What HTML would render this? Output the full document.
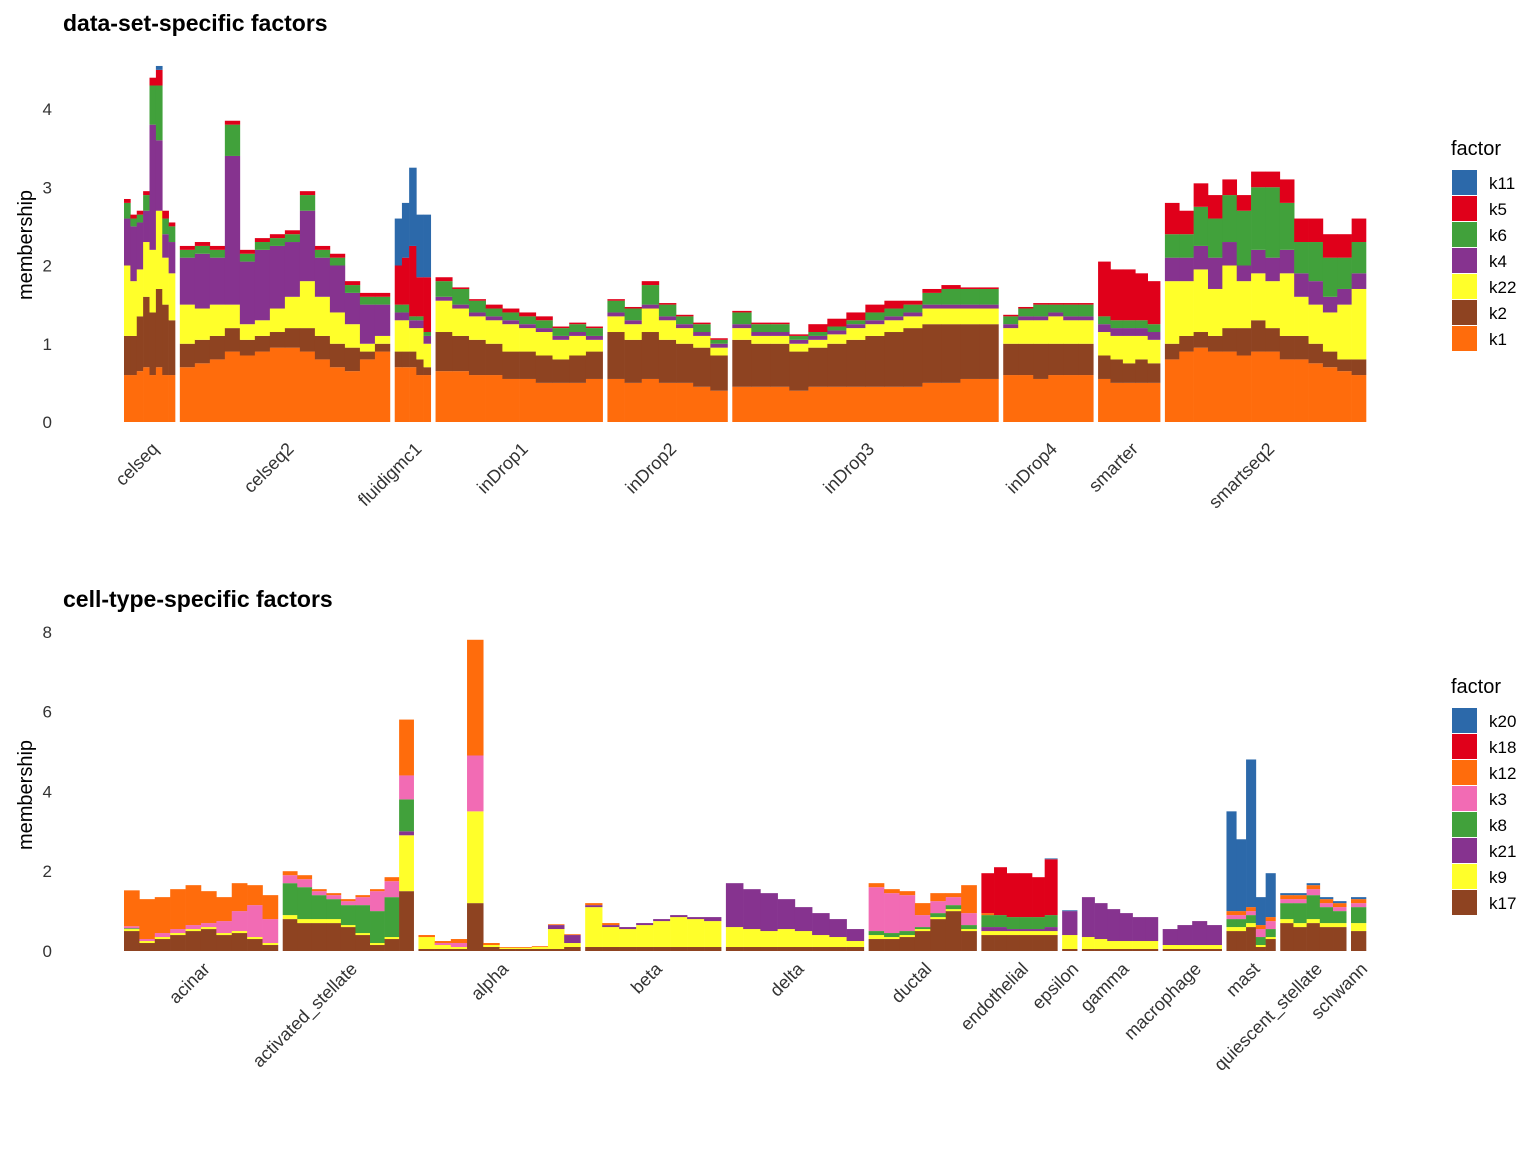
<!DOCTYPE html>
<html><head><meta charset="utf-8">
<style>
body{margin:0;background:#fff;}
svg{display:block;font-family:"Liberation Sans",Arial,sans-serif;}
</style></head>
<body>
<svg id="chart" width="1536" height="1152" viewBox="0 0 1536 1152" xmlns="http://www.w3.org/2000/svg"></svg>
<script>
// ---------- top panel data ----------
const topFactors = ["k1","k2","k22","k4","k6","k5","k11"];
const topColors = ["#FF6C0C","#8E4321","#FFFF2A","#86338F","#41A13B","#E0001A","#2C69AA"];
const topGroups = ["celseq","celseq2","fluidigmc1","inDrop1","inDrop2","inDrop3","inDrop4","smarter","smartseq2"];
const topCounts = [51,210,36,167,120,266,90,62,201];
const topTicks = [0,1,2,3,4];
const topBars = [
 [[0.6,0.5,0.9,0.6,0.2,0.05,0],[0.6,0.5,0.7,0.7,0.1,0.05,0],[0.65,0.7,0.6,0.6,0.1,0.05,0],[0.7,0.9,0.7,0.4,0.2,0.05,0],[0.6,0.8,0.8,1.6,0.5,0.1,0],[0.7,1.0,1.0,0.9,0.7,0.2,0.05],[0.6,0.9,0.6,0.3,0.2,0.1,0],[0.6,0.7,0.6,0.4,0.2,0.05,0]],
 [[0.7,0.3,0.5,0.6,0.1,0.05,0],[0.75,0.3,0.4,0.7,0.1,0.05,0],[0.8,0.3,0.4,0.6,0.1,0.05,0],[0.9,0.3,0.3,1.9,0.4,0.05,0],[0.85,0.2,0.2,0.8,0.1,0.05,0],[0.9,0.2,0.2,0.9,0.1,0.05,0],[0.95,0.2,0.3,0.8,0.1,0.05,0],[0.95,0.25,0.4,0.7,0.1,0.05,0],[0.9,0.3,0.6,0.9,0.2,0.05,0],[0.8,0.3,0.5,0.5,0.1,0.05,0],[0.7,0.3,0.4,0.6,0.1,0.05,0],[0.65,0.3,0.3,0.4,0.1,0.05,0],[0.8,0.1,0.1,0.5,0.1,0.05,0],[0.9,0.1,0.1,0.4,0.1,0.05,0]],
 [[0.7,0.2,0.4,0.1,0.1,0.5,0.6],[0.7,0.2,0.4,0.1,0.1,0.6,0.7],[0.7,0.2,0.3,0.1,0.05,0.9,1.0],[0.6,0.2,0.4,0.1,0.05,0.5,0.8],[0.6,0.1,0.3,0.1,0.05,0.7,0.8]],
 [[0.65,0.5,0.4,0.05,0.2,0.05,0],[0.65,0.45,0.35,0.05,0.2,0.02,0],[0.6,0.45,0.3,0.05,0.15,0.02,0],[0.6,0.4,0.3,0.05,0.1,0.05,0],[0.55,0.35,0.35,0.05,0.1,0.05,0],[0.55,0.35,0.3,0.05,0.1,0.05,0],[0.5,0.35,0.3,0.05,0.1,0.05,0],[0.5,0.3,0.25,0.05,0.1,0.02,0],[0.5,0.35,0.25,0.05,0.1,0.02,0],[0.55,0.35,0.15,0.05,0.1,0.02,0]],
 [[0.55,0.6,0.2,0.05,0.15,0.02,0],[0.5,0.55,0.2,0.05,0.15,0.02,0],[0.55,0.6,0.3,0.05,0.25,0.05,0],[0.5,0.55,0.25,0.05,0.15,0.02,0],[0.5,0.5,0.2,0.05,0.1,0.02,0],[0.45,0.5,0.15,0.05,0.1,0.02,0],[0.4,0.45,0.1,0.05,0.05,0.02,0]],
 [[0.45,0.6,0.15,0.05,0.15,0.02,0],[0.45,0.55,0.1,0.05,0.1,0.02,0],[0.45,0.55,0.1,0.05,0.1,0.02,0],[0.4,0.5,0.1,0.05,0.05,0.02,0],[0.45,0.5,0.1,0.05,0.05,0.1,0],[0.45,0.55,0.12,0.05,0.05,0.1,0],[0.45,0.6,0.15,0.05,0.05,0.1,0],[0.45,0.65,0.15,0.05,0.1,0.1,0],[0.45,0.7,0.15,0.05,0.1,0.1,0],[0.45,0.75,0.15,0.05,0.1,0.05,0],[0.5,0.75,0.2,0.05,0.15,0.05,0],[0.5,0.75,0.2,0.05,0.2,0.05,0],[0.55,0.7,0.2,0.05,0.2,0.02,0],[0.55,0.7,0.2,0.05,0.2,0.02,0]],
 [[0.6,0.4,0.2,0.05,0.1,0.02,0],[0.6,0.4,0.3,0.05,0.1,0.02,0],[0.55,0.45,0.3,0.05,0.15,0.02,0],[0.6,0.4,0.35,0.05,0.1,0.02,0],[0.6,0.4,0.3,0.05,0.15,0.02,0],[0.6,0.4,0.3,0.05,0.15,0.02,0]],
 [[0.55,0.3,0.3,0.1,0.1,0.7,0],[0.5,0.3,0.3,0.1,0.1,0.65,0],[0.5,0.25,0.35,0.1,0.1,0.65,0],[0.5,0.3,0.3,0.1,0.1,0.6,0],[0.5,0.25,0.3,0.1,0.1,0.55,0]],
 [[0.8,0.2,0.8,0.3,0.3,0.4,0],[0.9,0.2,0.7,0.3,0.3,0.3,0],[0.95,0.2,0.8,0.3,0.5,0.3,0],[0.9,0.2,0.6,0.4,0.5,0.3,0],[0.9,0.3,0.8,0.3,0.6,0.2,0],[0.85,0.35,0.6,0.2,0.7,0.2,0],[0.9,0.4,0.6,0.3,0.8,0.2,0],[0.9,0.3,0.6,0.3,0.9,0.2,0],[0.8,0.3,0.8,0.3,0.6,0.3,0],[0.8,0.3,0.5,0.3,0.4,0.3,0],[0.75,0.25,0.5,0.3,0.5,0.3,0],[0.7,0.2,0.5,0.2,0.5,0.3,0],[0.65,0.15,0.7,0.2,0.4,0.3,0],[0.6,0.2,0.9,0.2,0.4,0.3,0]]
];
// ---------- bottom panel data ----------
const botFactors = ["k17","k9","k21","k8","k3","k12","k18","k20"];
const botColors = ["#8E4321","#FFFF2A","#86338F","#41A13B","#F26BB4","#FF6C0C","#E0001A","#2C69AA"];
const botGroups = ["acinar","activated_stellate","alpha","beta","delta","ductal","endothelial","epsilon","gamma","macrophage","mast","quiescent_stellate","schwann"];
const botCounts = [154,131,162,136,138,108,76,15,76,59,49,66,15];
const botTicks = [0,2,4,6,8];
const botBars = [
 [[0.5,0.05,0,0.02,0.05,0.9,0,0],[0.2,0.05,0,0,0.05,1.0,0,0],[0.3,0.05,0,0,0.1,0.9,0,0],[0.4,0.05,0,0,0.1,1.0,0,0],[0.5,0.05,0,0,0.1,1.0,0,0],[0.55,0.05,0,0,0.1,0.8,0,0],[0.4,0.05,0,0,0.3,0.6,0,0],[0.45,0.05,0,0,0.5,0.7,0,0],[0.3,0.05,0,0,0.8,0.5,0,0],[0.15,0.05,0,0,0.6,0.6,0,0]],
 [[0.8,0.1,0,0.8,0.2,0.1,0,0],[0.7,0.1,0,0.8,0.2,0.1,0,0],[0.7,0.1,0,0.6,0.1,0.05,0,0],[0.7,0.1,0,0.5,0.1,0.05,0,0],[0.6,0.05,0,0.5,0.1,0.05,0,0],[0.4,0.05,0,0.7,0.2,0.05,0,0],[0.15,0.05,0,0.8,0.5,0.05,0,0],[0.3,0.05,0,1.0,0.4,0.1,0,0],[1.5,1.4,0.1,0.8,0.6,1.4,0,0]],
 [[0.05,0.3,0,0,0,0.05,0,0],[0.05,0.1,0,0,0.05,0.05,0,0],[0.05,0.05,0,0,0.1,0.1,0,0],[1.2,2.3,0,0,1.4,2.9,0,0],[0.1,0.05,0,0,0,0.05,0,0],[0.05,0.03,0,0,0,0.02,0,0],[0.05,0.03,0,0,0,0.02,0,0],[0.05,0.05,0,0,0,0.02,0,0],[0.05,0.5,0.1,0,0,0.02,0,0],[0.1,0.1,0.2,0,0,0.02,0,0]],
 [[0.1,1.0,0.05,0,0,0.05,0,0],[0.1,0.5,0.05,0,0,0.05,0,0],[0.1,0.45,0.05,0,0,0,0,0],[0.1,0.55,0.05,0,0,0,0,0],[0.1,0.65,0.05,0,0,0,0,0],[0.1,0.75,0.05,0,0,0,0,0],[0.1,0.7,0.05,0,0,0,0,0],[0.1,0.65,0.1,0,0,0,0,0]],
 [[0.1,0.5,1.1,0,0,0,0,0],[0.1,0.45,1.0,0,0,0,0,0],[0.1,0.4,0.95,0,0,0,0,0],[0.1,0.45,0.75,0,0,0,0,0],[0.1,0.4,0.6,0,0,0,0,0],[0.1,0.3,0.55,0,0,0,0,0],[0.1,0.25,0.45,0,0,0,0,0],[0.1,0.15,0.3,0,0,0,0,0]],
 [[0.3,0.1,0,0.1,1.1,0.1,0,0],[0.3,0.05,0,0.1,1.0,0.1,0,0],[0.35,0.05,0,0.1,0.9,0.1,0,0],[0.5,0.05,0,0.05,0.3,0.3,0,0],[0.8,0.05,0,0.1,0.3,0.2,0,0],[1.0,0.05,0,0.1,0.2,0.1,0,0],[0.5,0.05,0,0.1,0.3,0.7,0,0]],
 [[0.4,0.1,0.1,0.3,0,0.05,1.0,0],[0.4,0.1,0.1,0.3,0,0,1.2,0],[0.4,0.1,0.05,0.3,0,0,1.1,0],[0.4,0.1,0.05,0.3,0,0,1.1,0],[0.4,0.1,0.05,0.3,0,0,1.0,0],[0.4,0.1,0.1,0.3,0,0,1.4,0.02]],
 [[0.05,0.35,0.6,0,0,0,0,0.02]],
 [[0.05,0.3,1.0,0,0,0,0,0],[0.05,0.25,0.9,0,0,0,0,0],[0.05,0.2,0.8,0,0,0,0,0],[0.05,0.2,0.7,0,0,0,0,0],[0.05,0.2,0.6,0,0,0,0,0],[0.05,0.2,0.6,0,0,0,0,0]],
 [[0.05,0.1,0.4,0,0,0,0,0],[0.05,0.1,0.5,0,0,0,0,0],[0.05,0.1,0.6,0,0,0,0,0],[0.05,0.1,0.5,0,0,0,0,0]],
 [[0.5,0.1,0,0.2,0.1,0.1,0,2.5],[0.5,0.1,0,0.2,0.1,0.1,0,1.8],[0.6,0.1,0,0.2,0.1,0.1,0,3.7],[0.1,0.05,0,0.2,0.2,0.1,0,0.7],[0.3,0.05,0,0.2,0.2,0.1,0,1.1]],
 [[0.7,0.1,0,0.4,0.1,0.1,0,0.05],[0.6,0.1,0,0.5,0.1,0.1,0,0.05],[0.7,0.1,0,0.6,0.15,0.1,0,0.05],[0.6,0.1,0,0.4,0.1,0.1,0,0.05],[0.6,0.1,0,0.3,0.1,0.1,0,0.05]],
 [[0.5,0.2,0,0.4,0.1,0.1,0,0.05]]
];

const NS = "http://www.w3.org/2000/svg";
const svg = document.getElementById("chart");
function mk(tag, attrs, parent){const e=document.createElementNS(NS,tag);for(const k in attrs)e.setAttribute(k,attrs[k]);(parent||svg).appendChild(e);return e;}

function drawPanel(cfg){
  const g = mk("g",{});
  
  
  const x0=124, x1=1366, gap=4.8;
  const totalCells = cfg.counts.reduce((a,b)=>a+b,0);
  const scale = (x1-x0-gap*(cfg.counts.length-1))/totalCells;
  const yScale = v => cfg.yBase - v*cfg.yUnit;
  const t = mk("text",{x:63,y:cfg.titleY,"font-size":23,"font-weight":"bold",fill:"#000"},g);
  t.textContent = cfg.title;
  
  
  const yt = mk("text",{x:0,y:0,"font-size":20,fill:"#000","text-anchor":"middle",transform:`translate(32,${cfg.yTitleY}) rotate(-90)`},g);
  yt.textContent = "membership";
  
  
  cfg.ticks.forEach(v=>{
    const tk = mk("text",{x:52,y:yScale(v)+6,"font-size":17,fill:"#333","text-anchor":"end"},g);
    tk.textContent = String(v);
    
    
  });
  let cx = x0;
  cfg.groups.forEach((name,gi)=>{
    const w = cfg.counts[gi]*scale;
    const bars = cfg.bars[gi];
    const bw = w/bars.length;
    const gg = mk("g",{},g);
    
    
    bars.forEach((vals,bi)=>{
      let cum = 0;
      vals.forEach((v,fi)=>{
        if(v<=0) return;
        const yTop = yScale(cum+v), yBot = yScale(cum);
        const r = mk("rect",{x:(cx+bi*bw).toFixed(2),y:yTop.toFixed(2),width:(bw+0.3).toFixed(2),height:(yBot-yTop).toFixed(2),fill:cfg.colors[fi]},gg);
        
        
        cum += v;
      });
    });
    const c = cx + w/2;
    const lb = mk("text",{x:0,y:0,"font-size":18,fill:"#333","text-anchor":"end",transform:`translate(${c+10},${cfg.labelY}) rotate(-45)`},g);
    lb.textContent = name;
    
    
    cx += w + gap;
  });
  const lg = mk("g",{},g);
  
  
  const lt = mk("text",{x:1451,y:cfg.legendY,"font-size":20,fill:"#000"},lg);
  lt.textContent = "factor";
  
  
  const n = cfg.factors.length;
  for(let i=0;i<n;i++){
    const fi = n-1-i;
    const y = cfg.legendY+15+i*26;
    const sw = mk("rect",{x:1452,y:y,width:25,height:25,fill:cfg.colors[fi]},lg);
    
    
    const tx = mk("text",{x:1489,y:y+19,"font-size":17,fill:"#000"},lg);
    tx.textContent = cfg.factors[fi];
    
    
  }
}

drawPanel({name:"data-set-panel",title:"data-set-specific factors",titleY:31,yTitleY:245,yBase:422,yUnit:78.25,
  ticks:topTicks,groups:topGroups,counts:topCounts,bars:topBars,factors:topFactors,colors:topColors,labelY:450,legendY:155});
drawPanel({name:"cell-type-panel",title:"cell-type-specific factors",titleY:607,yTitleY:795,yBase:951,yUnit:39.9,
  ticks:botTicks,groups:botGroups,counts:botCounts,bars:botBars,factors:botFactors,colors:botColors,labelY:970,legendY:693});
</script>
</body></html>
